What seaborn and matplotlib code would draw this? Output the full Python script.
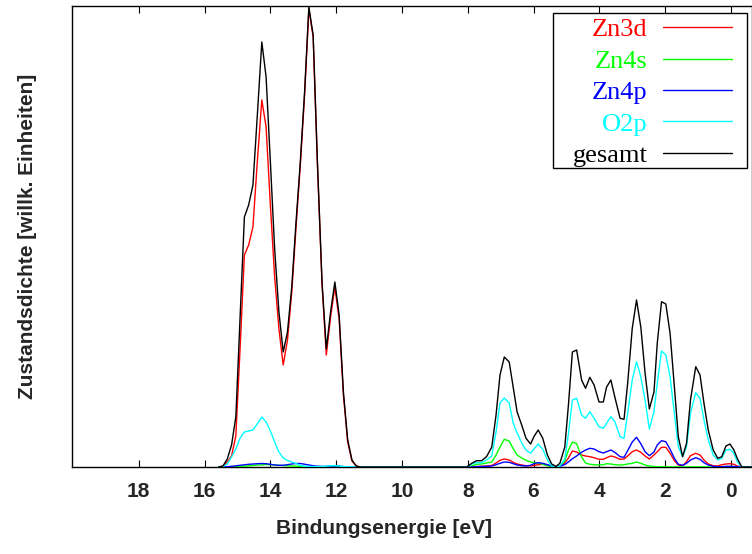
#!/usr/bin/env python3
"""
Partial densities of states of ZnO (Zn3d, Zn4s, Zn4p, O2p and total),
drawn gnuplot-style with the binding energy axis running right to left.
Saves out.png.
"""
import matplotlib
matplotlib.use("Agg")
import matplotlib.pyplot as plt
from matplotlib.lines import Line2D
from matplotlib.patches import Rectangle
import pandas as pd
import seaborn as sns

# binding energy in eV: Zn3d band (15.6 .. 11.3) then valence band (8 .. -0.6)
energy = [
    15.57, 15.44, 15.31, 15.18, 15.05, 14.92, 14.79, 14.66, 14.53, 14.40,
    14.26, 14.13, 14.00, 13.87, 13.74, 13.61, 13.48, 13.35, 13.22, 13.09,
    12.96, 12.83, 12.70, 12.57, 12.43, 12.30, 12.17, 12.04, 11.91, 11.78,
    11.65, 11.52, 11.39, 11.26,
    8.03, 7.88, 7.73, 7.58, 7.43, 7.27, 7.14, 7.02, 6.89, 6.74,
    6.62, 6.50, 6.36, 6.23, 6.09, 5.99, 5.86, 5.72, 5.58, 5.45,
    5.32, 5.20, 5.05, 4.94, 4.82, 4.69, 4.54, 4.42, 4.29, 4.16,
    4.01, 3.88, 3.78, 3.65, 3.53, 3.37, 3.25, 3.14, 3.00, 2.87,
    2.74, 2.61, 2.48, 2.34, 2.24, 2.11, 1.98, 1.85, 1.72, 1.60,
    1.47, 1.35, 1.23, 1.07, 0.94, 0.82, 0.69, 0.54, 0.40, 0.28,
    0.15, 0.03, -0.09, -0.19, -0.33, -0.64,
]

# densities of states, arbitrary units
zn3d = [
    0, 1, 5, 11, 31, 119, 212, 222, 240, 304,
    367, 340, 262, 190, 138, 102, 127, 175, 240, 302,
    372, 458, 430, 303, 183, 112, 150, 180, 148, 72,
    25, 6, 1, 0,
    0, 0.3, 0.5, 0.7, 1, 1.5, 4, 6.7, 8, 7,
    4.7, 3, 2, 1.3, 1.2, 1.5, 2.3, 2.7, 2, 0.7,
    0, 1, 4, 9, 16, 15, 12, 11, 10.3, 9.3,
    7.7, 7.7, 9.3, 11, 10, 7.7, 8, 11, 15.3, 17,
    14.7, 11, 8, 12, 15.3, 19.7, 19.7, 13.7, 6.3, 2,
    1, 5.3, 11.3, 13.7, 12, 7, 3, 1.3, 1, 2.3,
    3, 3.3, 2.7, 1, 0, 0,
]
zn4s = [
    0, 0, 0.1, 0.2, 0.3, 0.5, 0.8, 1.1, 1.5, 1.9,
    2.2, 2.5, 2.3, 2.0, 1.7, 1.4, 1.2, 1.0, 0.8, 0.6,
    0.5, 0.4, 0.3, 0.3, 0.3, 0.4, 0.5, 0.6, 0.5, 0.3,
    0.1, 0, 0, 0,
    0, 1, 2.7, 3, 4, 5, 12, 20, 27.7, 26,
    18.3, 12, 9, 6.7, 5, 4.3, 4, 2.7, 1.3, 0.3,
    0, 1, 6, 17, 25, 23.3, 10, 4, 2.7, 2.3,
    2, 2.3, 3.3, 3, 2.3, 2, 2.3, 3, 3.7, 5,
    3.7, 2, 1, 0.5, 0.3, 0.2, 0.2, 0.2, 0.1, 0.1,
    0.1, 0.1, 0.2, 0.2, 0.2, 0.1, 0.1, 0, 0, 0,
    0.1, 0.1, 0.1, 0, 0, 0,
]
zn4p = [
    0, 0.1, 0.3, 0.7, 1.2, 1.7, 2.2, 2.7, 3.0, 3.3,
    3.5, 3.3, 2.7, 2.0, 1.7, 1.8, 2.3, 3.0, 3.5, 3.5,
    2.8, 2.0, 1.3, 0.8, 0.6, 0.6, 0.8, 1.0, 0.8, 0.4,
    0.2, 0, 0, 0,
    0, 0, 0.3, 0.5, 0.7, 1, 2.3, 3.7, 5, 4.7,
    3.3, 2, 1.3, 1, 1.7, 3.3, 4.3, 3.7, 2.3, 1,
    0.3, 0.7, 2.5, 5, 8.3, 11, 14.7, 17, 18.7, 18,
    15.3, 14, 15.3, 17, 14.7, 10.3, 9.7, 16.3, 25, 29.7,
    23.3, 15.3, 11.3, 15, 22, 26.3, 25.3, 17.7, 8.7, 2.7,
    1.7, 3.7, 7, 9.3, 7.7, 4.3, 2, 0.7, 0.3, 0.3,
    0.7, 0.7, 0.5, 0.3, 0, 0,
]
o2p = [
    0, 0.5, 3, 10, 18, 29, 35, 36, 37, 43,
    50, 45, 36, 25, 15, 9, 6.5, 5, 3.5, 1.5,
    0.8, 0.5, 0.5, 0.5, 0.5, 0.8, 1.2, 1.5, 1, 0.5,
    0.2, 0, 0, 0,
    0, 3, 4.3, 4.3, 7, 11, 35, 64, 69, 64,
    44, 34, 24, 17, 13.7, 18, 23, 17.7, 7, 1,
    0, 1, 8, 33, 67, 68.7, 52, 48.7, 55.3, 48.7,
    40.3, 38.7, 43.7, 50.3, 45.3, 30.3, 28.7, 53.7, 87, 105.3,
    90.3, 67, 38, 55.3, 83.7, 116, 112, 90.3, 53.7, 20.3,
    10.3, 20.3, 53.7, 74.3, 68.7, 47, 27, 12, 7, 8.7,
    17, 17.7, 13.7, 5.3, 0, 0,
]
gesamt = [
    0, 1, 8, 22, 50, 150, 250, 262, 282, 350,
    425, 390, 305, 218, 155, 115, 135, 180, 245, 305,
    375, 460, 432, 305, 185, 118, 155, 185, 152, 75,
    27, 7, 1, 0,
    0, 3.7, 6.3, 6.3, 10.3, 20, 52, 92, 110, 105,
    80, 55, 42, 28.7, 23, 30.3, 37, 28.7, 12, 3,
    0.5, 3.7, 20, 62, 115, 117, 87, 78.7, 89.7, 82,
    65, 65, 80, 87, 70, 48.7, 47.7, 83.7, 138.7, 167,
    140, 93.7, 58, 75, 123.7, 165.3, 163, 133.7, 80.3, 30.3,
    10.3, 23.7, 67, 100.3, 92, 63.7, 37, 17, 8.7, 10.3,
    21, 23, 17, 8.7, 0, 0,
]

orbitals = ["Zn3d", "Zn4s", "Zn4p", "O2p", "gesamt"]
colors = ["#ff0000", "#00ff00", "#0000ff", "#00ffff", "#000000"]
xticks = [18, 16, 14, 12, 10, 8, 6, 4, 2, 0]


def main(out_path="out.png"):
    sns.set_theme(style="white")
    plt.rcParams["font.family"] = ["Liberation Sans", "DejaVu Sans"]

    df = pd.DataFrame({
        "energy": energy,
        "Zn3d": zn3d,
        "Zn4s": zn4s,
        "Zn4p": zn4p,
        "O2p": o2p,
        "gesamt": gesamt,
    }).melt(id_vars="energy", var_name="orbital", value_name="dos")

    W, H = 752, 554
    fig = plt.figure(figsize=(W / 100, H / 100), dpi=100)
    # plot box in pixels: x 72..752, y 6..467
    ax = fig.add_axes([72 / W, 1 - 467 / H, 680 / W, 461 / H])

    sns.lineplot(
        data=df, x="energy", y="dos", hue="orbital", hue_order=orbitals,
        palette=dict(zip(orbitals, colors)), estimator=None, sort=False,
        linewidth=1.0, legend=False, ax=ax, zorder=3,
    )

    ax.set_xlim(20.03, -0.64)
    ax.set_ylim(0, 461)
    ax.set_yticks([])
    ax.set_xticks(xticks, [str(t) for t in xticks], fontweight="bold", fontsize=15)
    ax.tick_params(axis="x", direction="in", length=5, width=0.8,
                   top=True, bottom=True, pad=10.5, color="black")
    for sp in ax.spines.values():
        sp.set_color("black")
        sp.set_linewidth(1.0)

    ax.set_xlabel("Bindungsenergie [eV]", fontsize=15, fontweight="bold")
    ax.set_ylabel("Zustandsdichte [willk. Einheiten]", fontsize=15, fontweight="bold")
    ax.xaxis.set_label_coords((384.5 - 72) / 680, (467 - 519) / 461)
    ax.yaxis.set_label_coords((37 - 72) / 680, 0.5)

    # gnuplot style key: box, right aligned coloured text, sample on the right
    box = Rectangle(((553 - 72) / 680, (467 - 168) / 461), 194 / 680, 155 / 461,
                    transform=ax.transAxes, facecolor="white", edgecolor="black",
                    linewidth=1.0, zorder=4)
    ax.add_patch(box)
    handles = [Line2D([], [], color=c, linewidth=1.0) for c in colors]
    leg = ax.legend(
        handles, orbitals, loc="upper right",
        bbox_to_anchor=((732 - 72) / 680, (467 - 18) / 461),
        bbox_transform=ax.transAxes, markerfirst=False, labelcolor="linecolor",
        prop={"family": ["Liberation Serif", "DejaVu Serif"], "size": 19},
        frameon=False, borderpad=0, borderaxespad=0,
        handlelength=2.6, handletextpad=0.6, labelspacing=0.3,
    )
    leg.set_zorder(5)

    fig.savefig(out_path, dpi=100)
    plt.close(fig)


if __name__ == "__main__":
    main()
